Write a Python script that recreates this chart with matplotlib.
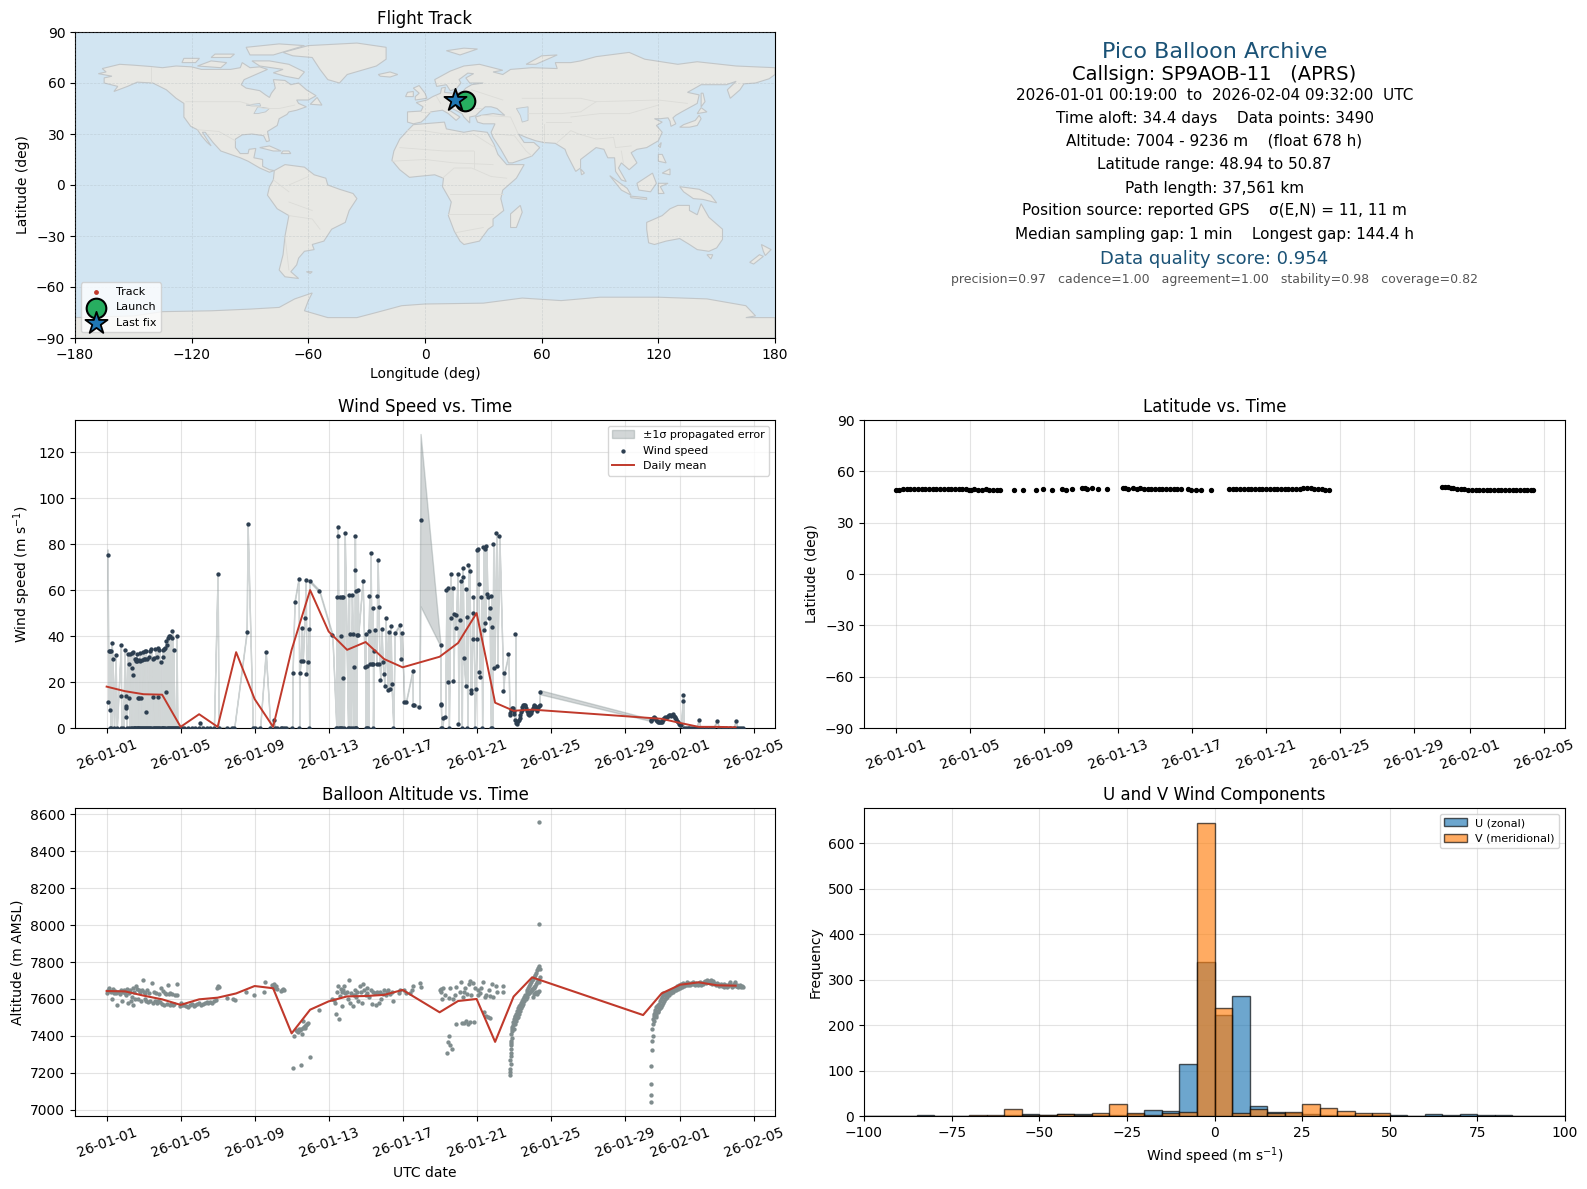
#!/usr/bin/env python3
"""Pico balloon flight summary panel."""

from datetime import datetime

import matplotlib

matplotlib.use("Agg")
import matplotlib.dates as mdates
import numpy as np
from matplotlib import pyplot as plt
from matplotlib.patches import Polygon

FIG_W, FIG_H = 1587, 1189

# ---- map outlines, lon/lat
north_america = [(-168, 65.5), (-164, 66.5), (-166, 68.5), (-157, 71), (-150, 70.5), (-141, 69.7), (-135, 69), (-128, 70), (-120, 69.5), (-115, 68), (-108, 68), (-100, 68), (-95, 69), (-94, 72), (-90, 69), (-85, 69.5), (-81, 68), (-87, 65), (-93, 62), (-94.5, 59), (-92, 57), (-85, 55.5), (-82, 53), (-80, 51.5), (-79, 54), (-77, 57), (-78, 62), (-72, 61.5), (-69, 59), (-65, 60), (-61, 56), (-56, 52.5), (-60, 50), (-66, 50), (-65, 48), (-61, 46), (-66, 44), (-70, 43), (-71, 41.5), (-75, 39), (-76, 35), (-81, 31.5), (-80, 26), (-81.5, 25.5), (-83, 29), (-89, 30), (-94, 29.5), (-97.5, 27), (-97.5, 22), (-95, 18.5), (-91, 18.5), (-90.5, 21), (-87, 21.5), (-88, 16), (-83.5, 15), (-83.5, 11), (-80, 9), (-77.5, 8.5), (-80, 7.5), (-85, 10), (-91, 14), (-95, 16), (-105, 20), (-109, 25), (-113, 31), (-114.5, 31), (-110, 23), (-112, 25), (-115, 29), (-117, 32.5), (-120.5, 34.5), (-124, 40), (-124, 48), (-128, 51), (-133, 56), (-140, 60), (-148, 60.5), (-153, 58), (-160, 55), (-158, 58), (-165, 60), (-165, 63), (-161, 64)]
south_america = [(-77.5, 8.5), (-72, 12), (-62, 10.5), (-57, 6), (-51, 4), (-50, 0), (-44, -2.5), (-37, -5), (-35, -8), (-39, -15), (-41, -22), (-48, -26), (-52, -33), (-58, -35), (-57, -38), (-62, -39), (-65, -43), (-66, -47), (-69, -51), (-65, -55), (-72, -54), (-75, -50), (-73, -41), (-72, -30), (-70, -18), (-76, -14), (-81, -6), (-80, -1), (-78, 3)]
eurasia = [(-9, 37), (-9, 43), (-2, 43.5), (-1, 46), (-4.5, 48.5), (1, 50), (4, 52), (8, 54), (8.5, 57), (10.5, 57.5), (10, 54.5), (14, 54), (19, 54.5), (21, 57), (24, 59), (30, 60), (23, 60), (21, 63), (25, 65.5), (22, 65.8), (17.5, 62), (18.5, 60), (16, 56.5), (13, 55.5), (11, 59), (6, 58), (5, 62), (13, 67), (20, 70), (28, 71), (40, 67.5), (35, 66.5), (40, 65), (44, 68), (55, 69), (68, 68.5), (67, 72), (75, 72), (80, 73), (88, 75.5), (105, 78), (113, 74), (130, 71), (140, 72.5), (160, 70), (180, 69), (180, 65), (177, 62.5), (170, 60), (164, 59.5), (162, 56), (157, 51), (155.5, 56), (160, 61), (155, 59), (142, 59), (135, 54.5), (141, 53), (140, 48), (132, 43), (129, 41), (127.5, 39.5), (129, 36), (126.5, 34.5), (126, 37.5), (125, 39.5), (121, 39), (118, 39), (122, 37), (119, 35), (122, 31), (120, 26), (114, 22), (109, 21), (106, 19), (109, 13), (105, 9), (101, 13), (99.5, 10), (103.5, 2), (101, 3), (98, 8), (97.5, 16), (94, 16), (92, 21), (88, 22), (80, 15), (80, 10), (77.5, 8), (73, 18), (72, 21), (67, 24.5), (61, 25), (57, 26), (52, 28), (48, 30), (51, 25), (56, 25), (59, 22), (55, 17), (45, 13), (43, 13), (39, 21), (35, 28), (34, 31), (36, 36), (30, 36), (27, 37), (26, 40), (29, 41), (35, 42), (41, 41), (37, 45), (34, 46), (31, 46), (28, 43), (26, 40.7), (23, 40), (23, 36.5), (20, 40), (19, 42), (14, 45), (12.5, 44), (18, 40), (16, 38), (12, 42), (9, 44), (3, 43), (0, 39), (-2, 37), (-6, 36)]
africa = [(-6, 35.5), (10, 37), (11, 33), (20, 31), (25, 32), (32, 31), (33.5, 28), (35.5, 24), (37.5, 18), (42, 12), (51, 12), (47, 4), (40, -3), (39, -8), (40.5, -15), (35, -20), (35, -24), (32.5, -26), (28, -33), (20, -35), (18, -33), (15, -27), (12, -18), (13.5, -10), (9, -1), (9.5, 4), (5, 6), (-4, 5), (-8, 4.5), (-13, 9), (-17, 14.5), (-16, 20), (-13, 27), (-9, 32)]
australia = [(114, -22), (122, -18), (126, -14), (130, -12), (136, -12), (136, -15), (140, -17.5), (142, -11), (146, -19), (153, -26), (153, -32), (150, -37), (146, -39), (140, -38), (136, -35), (131, -31.5), (124, -33), (118, -35), (115, -34), (114, -26)]
antarctica = [(-180, -78), (-150, -77), (-135, -74.5), (-110, -74), (-90, -73), (-75, -72), (-67, -67), (-58, -63.5), (-60, -68), (-62, -74), (-50, -78), (-35, -78), (-25, -75), (-12, -71), (0, -70), (30, -69.5), (50, -66.5), (70, -68), (90, -66), (120, -66), (145, -67), (165, -71), (170, -77), (165, -78), (180, -78), (180, -90), (-180, -90)]
greenland = [(-73, 78), (-60, 82), (-35, 83.5), (-20, 81), (-20, 74), (-25, 70), (-40, 65), (-44, 60), (-50, 62), (-54, 68), (-58, 75), (-68, 76)]
islands = [
    [(-80, 73), (-70, 71), (-62, 66.5), (-65, 62.5), (-72, 64), (-78, 66), (-73, 68), (-85, 70), (-89, 73)],
    [(-117, 70), (-105, 69), (-102, 72), (-110, 73)],
    [(-90, 76.5), (-78, 76.5), (-62, 82), (-75, 83), (-92, 81)],
    [(-125, 72), (-118, 72), (-116, 74.5), (-124, 74.5)],
    [(-110, 75), (-100, 75), (-98, 77), (-108, 77)],
    [(-59, 47.5), (-53, 47), (-55.5, 51.5)],
    [(-85, 22), (-80, 23), (-74, 20), (-78, 20)],
    [(-74, 18.5), (-69, 18.5), (-70, 20), (-73, 20)],
    [(49, -12), (50, -16), (47, -25), (44, -25), (44, -17)],
    [(-5, 50), (1, 51), (0, 54), (-3, 58.5), (-6, 57), (-3, 54), (-5, 52)],
    [(-10, 52), (-6, 52), (-6, 55), (-9, 54.5)],
    [(-24, 65), (-18, 66.5), (-14, 65), (-18, 63.5), (-23, 64)],
    [(11, 79), (20, 80.5), (27, 80), (18, 76.5)],
    [(52, 71), (57, 71), (68, 76.5), (60, 76)],
    [(131, 34), (136, 34), (140, 35), (142, 39), (141, 41), (139, 38), (133, 35.5)],
    [(140, 42), (145, 43), (142, 45.5)],
    [(142, 46), (144, 49), (143, 54), (142, 54)],
    [(120, 23), (121.5, 25), (121, 22)],
    [(80, 9.5), (82, 7), (80.5, 6)],
    [(109, 1), (117, 7), (119, 1), (116, -4), (110, -3)],
    [(95, 5.5), (104, -2), (106, -6), (101, -3)],
    [(105.5, -6.5), (114, -7.5), (114, -8.5), (106, -7.5)],
    [(120, 1), (125, 1), (121, -1), (123, -5), (120, -5)],
    [(131, -1), (141, -2.5), (147, -6), (150, -10.5), (143, -8.5), (138, -8), (133, -4)],
    [(120, 18), (122, 18), (124, 13), (120, 14)],
    [(122, 7), (126, 9.5), (126, 6)],
    [(145, -41), (148, -41), (147, -43.5)],
    [(173, -35), (178, -38), (175, -41.5), (174, -39)],
    [(172, -41), (174, -42), (169, -46.5), (167, -45.5)],
    [(-61, -51), (-58, -51), (-59, -52)],
]
lakes = [
    [(47, 45), (53, 46), (53, 38), (50, 37), (49, 41)],
    [(-92, 47), (-85, 48), (-84.5, 46.5), (-89, 46.5)],
    [(-88, 42), (-86, 46), (-80, 45), (-82, 43), (-86, 42)],
]
borders = [
    [(-123, 49), (-95, 49), (-83, 45), (-75, 45), (-67, 47)], [(-141, 69.7), (-141, 60)], [(-117, 32.5), (-106, 31.5), (-97.5, 26)],
    [(-70, -18), (-58, -20), (-54, -26)], [(-70, 0), (-60, 5)], [(-72, -30), (-70, -50)], [(-70, -10), (-58, -15)], [(-78, 3), (-70, -4)],
    [(-9, 32), (-1, 32), (10, 30), (25, 30), (36, 22)], [(-13, 22), (10, 20), (25, 20)], [(-17, 14), (0, 15), (15, 13), (35, 12)],
    [(9, 4), (15, 10), (24, 10), (34, 5), (42, 4)], [(13, -5), (30, -5), (40, -5)], [(12, -17), (25, -17), (35, -17)], [(25, 20), (25, 10)], [(16, -28), (30, -25)],
    [(-2, 43), (3, 43)], [(8, 48), (6, 52)], [(14, 54), (14, 46)], [(24, 52), (23, 45), (29, 45)], [(24, 56), (40, 50)], [(29, 41), (44, 40), (48, 30)],
    [(53, 42), (70, 42), (80, 43), (88, 49), (120, 50), (135, 48)], [(50, 51), (60, 51), (80, 51), (88, 49)], [(75, 40), (90, 42), (105, 42), (120, 47)], [(62, 37), (75, 37)],
    [(61, 25), (61, 36)], [(68, 25), (75, 32), (79, 30), (88, 27), (97, 28), (98, 22), (106, 23)], [(101, 20), (102, 13)], [(36, 30), (46, 29), (52, 20), (55, 17)],
]

# ---- wind speed: days since 2026-01-01 and m/s
wind_days = [0.05, 0.1, 0.16, 0.11, 0.18, 0.23, 0.27, 0.32, 0.48, 0.77, 0.78, 0.97, 1.03, 1.06, 1.04, 1.03, 1.14, 1.19, 1.21, 1.25, 1.35, 1.36, 1.41, 1.44, 1.53, 1.57, 1.6, 1.65, 1.62, 1.68, 1.73, 1.75, 1.8, 1.78, 1.85, 1.9, 1.95, 2.0, 2.05, 2.1, 2.15, 2.12, 2.2, 2.28, 2.33, 2.4, 2.48, 2.52, 2.58, 2.63, 2.7, 2.75, 2.8, 2.85, 2.95, 3.05, 3.03, 3.1, 3.13, 3.2, 3.22, 3.28, 3.33, 3.38, 3.43, 3.52, 3.56, 3.62, 3.78,
             5.03, 6.0, 7.57, 7.62, 8.6, 9.03, 10.05, 10.16, 10.38, 10.43, 10.49, 10.54, 10.6, 10.7, 10.76, 10.8, 10.86, 10.92, 10.97, 11.5,
             12.2, 12.45, 12.49, 12.5, 12.6, 12.65, 12.7, 12.76, 12.8, 12.87, 13.1, 13.15, 13.26, 13.3, 13.35, 13.42, 13.43, 13.48, 13.53, 13.58, 13.6, 13.84, 13.95, 14.0, 14.05, 14.16, 14.2, 14.22, 14.27, 14.32, 14.38, 14.4, 14.43, 14.49, 14.6, 14.62, 14.65, 14.7, 14.75, 14.8, 14.86, 14.92, 14.97, 15.03, 15.08, 15.19, 15.24, 15.3, 15.35, 15.4, 15.57, 15.84, 15.9, 15.95,
             16.09, 16.18, 16.54, 16.55, 16.62, 16.9, 16.97, 18.05, 18.06, 18.07, 18.2, 18.3, 18.37, 18.43, 18.48, 18.6, 18.61, 18.7, 18.75, 18.8, 18.86, 18.9, 18.97, 19.02, 19.08, 19.13, 19.24, 19.25, 19.3, 19.4, 19.45, 19.46, 19.56, 19.62, 19.67, 19.72, 19.78, 19.79, 19.83, 19.94, 20.0, 20.01, 20.1, 20.11, 20.15, 20.2, 20.26, 20.37, 20.42, 20.47, 20.48, 20.53, 20.58, 20.64, 20.65, 20.7, 20.8, 20.81, 20.9, 20.96, 21.07, 21.12, 21.23, 21.45, 21.5, 21.72, 22.1,
             21.78, 21.82, 21.86, 21.9, 21.95, 22.0, 22.04, 22.08, 22.12, 22.16, 22.2, 22.24, 22.28, 22.32, 22.36, 22.4, 22.44, 22.48, 22.52, 22.56, 22.6, 22.64, 22.68, 22.72, 22.76, 22.8, 22.84, 22.88, 22.92, 22.96, 23.0, 23.04, 23.08, 23.12, 23.16, 23.2, 23.24, 23.28, 23.32, 23.36, 23.4, 23.42,
             29.4, 29.45, 29.5, 29.55, 29.6, 29.65, 29.7, 29.75, 29.8, 29.85, 29.9, 29.95, 30.0, 30.05, 30.1, 30.15, 30.2, 30.25, 30.3, 30.35, 30.4, 30.45, 30.5, 30.55, 30.6, 30.65, 30.7, 30.75, 30.8, 30.85, 30.9, 30.95, 31.0, 31.05, 31.16, 31.17, 32.0, 33.0, 34.0]
wind_speeds = [75.2, 11.3, 7.8, 33.5, 33.5, 33.5, 37, 30, 31.7, 36, 14, 34, 14, 9.5, 8.5, 5, 32, 28, 13, 32.2, 26, 32.7, 23, 33, 30, 30, 29, 29, 32, 13, 13, 29.5, 32.5, 29, 13, 29.5, 33, 30, 33.5, 30, 7, 33.5, 30, 31, 33.5, 34.5, 30, 13.5, 30.5, 34.5, 31, 34.8, 13.5, 34, 28.5, 34, 31, 34.5, 35, 38, 15.5, 36, 39, 40, 40, 39, 42, 34, 40,
               2.2, 67, 41.7, 88.7, 33, 3.5, 24, 55, 65, 24, 29, 43.5, 29, 48, 64.5, 23.5, 28.7, 43, 64, 59.6,
               40.6, 57, 87.5, 83.5, 57, 40, 57, 21.7, 57, 84.8, 57.8, 41, 57.8, 41, 26.5, 83.5, 68.7, 59.6, 40.6, 60, 40.6, 64, 26.7, 41, 27, 42.3, 57.4, 28, 76, 28, 52, 28, 33.6, 42.6, 28, 57.4, 73, 52.6, 28, 21, 43, 28.7, 23.5, 18.4, 47.8, 16.5, 41.7, 17, 44.3, 19, 41.3, 44.8, 30, 41.3,
               11.3, 11.3, 25, 10, 10, 9.1, 90.4, 36, 10.5, 10, 4.5, 4.8, 60, 20, 61, 67, 47.8, 61, 20.4, 49.6, 43.5, 49, 67, 1.7, 47, 64, 65.7, 69.6, 30.4, 18.3, 60.4, 48.3, 70.9, 68.3, 16.5, 15.2, 50, 38.7, 57, 17, 38.7, 77.4, 78, 62.6, 24.3, 22.2, 57, 78.7, 42.6, 77.7, 45.7, 79.3, 58.3, 57, 47.8, 52.2, 57.4, 44, 80, 26, 84.8, 26.8, 83.5, 16, 24, 32, 40.9,
               5.8, 6.5, 7.8, 8.7, 8.6, 7.5, 5.9, 3.5, 2.0, 1.9, 2.5, 3.2, 3.4, 4.4, 5.5, 6.8, 7.8, 9.0, 9.8, 10.1, 9.9, 9.5, 8.8, 7.6, 6.9, 6.0, 5.6, 6.1, 6.6, 7.2, 7.9, 8.8, 9.7, 10.2, 9.6, 8.4, 7.6, 8.2, 9.1, 9.7, 10.0, 15.6,
               3.5, 3.2, 3.9, 4.4, 4.6, 4.3, 3.6, 2.9, 2.5, 2.7, 2.4, 2.6, 2.6, 3.4, 4.0, 4.5, 4.6, 4.3, 4.7, 5.2, 5.6, 5.8, 5.2, 5.6, 6.0, 5.4, 4.9, 4.3, 3.9, 3.1, 2.6, 1.8, 1.5, 1.2, 14.3, 11.7, 3.5, 3.0, 3.0]
wind_zero_days = [0.2, 0.25, 0.4, 0.55, 0.8, 0.9, 1.08, 1.22, 1.3, 1.38, 1.46, 1.5, 1.55, 1.59, 1.63, 1.67, 1.71, 1.76, 1.82, 1.87, 1.92, 1.97, 2.02, 2.07, 2.13, 2.17, 2.23, 2.3, 2.36, 2.42, 2.5, 2.55, 2.6, 2.66, 2.72, 2.77, 2.82, 2.88, 2.98, 3.0, 3.07, 3.12, 3.17, 3.24, 3.3, 3.36, 3.41, 3.47, 3.54, 3.6, 3.65, 3.7, 3.74, 3.82, 3.88, 3.95,
                  4.05, 4.2, 4.4, 4.6, 4.8, 5.0, 5.2, 5.4, 5.6, 5.8, 6.05, 6.5, 6.8, 6.9, 7.9, 8.0, 8.3, 8.85, 9.1, 9.2, 9.4, 9.5, 9.6, 9.7, 10.03, 10.42, 10.95,
                  12.42, 12.47, 12.55, 12.62, 12.68, 12.74, 12.82, 13.05, 13.12, 13.2, 13.32, 13.4, 13.46, 13.5, 14.0, 14.08, 14.15, 14.4, 15.5,
                  18.1, 18.15, 18.5, 19.2, 19.5, 19.9, 20.3, 20.77, 20.85, 31.2, 31.3, 31.4, 31.5, 31.6, 31.7, 31.8, 31.9, 32.1, 32.2, 32.4, 32.6, 32.8, 33.1, 33.3, 33.5, 33.7, 33.9, 34.1, 34.2, 34.3, 34.4]
wind_sigma_days = [0.05, 16.97, 23.42]
wind_sigma_vals = [2.5, 37.5, 0.9]
wind_mean_days = [0, 1, 2, 3, 4, 5, 6, 7, 8, 9, 10, 11, 12, 13, 14, 15, 16, 18, 19, 20, 21, 22, 23, 30, 31, 32, 33, 34]
wind_mean_vals = [18, 16, 14.7, 14.5, 0.5, 6, 0.5, 33, 12.6, 0.5, 34, 60, 42, 34, 37.4, 30, 26.4, 31, 37, 50, 11, 7.5, 8, 4, 2.2, 0.5, 0.5, 0.3]

# ---- latitude
lat_days = [0.02, 0.2, 0.4, 0.6, 0.8, 1.0, 1.2, 1.4, 1.6, 1.8, 2.0, 2.2, 2.4, 2.6, 2.8, 3.0, 3.2, 3.4, 3.6, 3.8, 3.95, 4.05, 4.25, 4.45, 4.65, 4.85, 5.05, 5.25, 5.45, 5.65, 6.4, 6.86, 7.6, 7.94, 8.45, 9.0, 9.2, 9.5, 10.05, 10.2, 10.35, 10.6, 10.9, 11.4,
            12.25, 12.4, 12.55, 12.8, 13.0, 13.2, 13.4, 13.6, 13.8, 14.0, 14.2, 14.4, 14.6, 14.8, 15.0, 15.2, 15.4, 15.8, 15.95, 16.2, 16.5, 17.0,
            18.0, 18.2, 18.35, 18.6, 18.8, 19.0, 19.2, 19.4, 19.6, 19.8, 20.0, 20.2, 20.4, 20.6, 20.8, 21.0, 21.2, 21.4, 21.6, 21.8, 22.0, 22.2, 22.4, 22.6, 22.8, 23.0, 23.2, 23.4,
            29.5, 29.65, 29.8, 29.95, 30.1, 30.3, 30.5, 30.7, 30.9, 31.1, 31.3, 31.5, 31.7, 31.9, 32.1, 32.3, 32.5, 32.7, 32.9, 33.1, 33.3, 33.5, 33.7, 33.9, 34.1, 34.3, 34.4]
lat_vals = [49.2, 49.3, 49.5, 49.4, 49.6, 49.4, 49.5, 49.6, 49.4, 49.5, 49.6, 49.8, 49.6, 49.7, 49.8, 49.6, 49.5, 49.6, 49.4, 49.4, 49.3, 49.3, 49.4, 49.3, 49.3, 49.4, 49.3, 49.3, 49.2, 49.3, 49.3, 49.3, 49.3, 49.4, 49.3, 49.4, 49.3, 49.4, 50.3, 50.1, 49.9, 50.0, 49.7, 49.6,
            50.1, 50.0, 49.8, 50.1, 49.9, 50.0, 49.8, 49.9, 49.8, 49.7, 49.8, 49.6, 49.7, 49.6, 49.5, 49.6, 49.4, 49.4, 49.3, 49.3, 49.2, 49.3,
            49.4, 49.5, 49.5, 49.7, 49.6, 49.8, 49.6, 49.7, 49.6, 49.6, 49.7, 49.6, 49.6, 49.5, 49.6, 49.5, 49.6, 49.7, 49.8, 49.8, 50.4, 50.4, 50.1, 49.9, 49.7, 49.4, 49.2, 48.9,
            50.8, 50.7, 50.6, 50.2, 50.0, 49.7, 49.5, 49.4, 49.3, 49.3, 49.3, 49.2, 49.3, 49.3, 49.2, 49.3, 49.3, 49.2, 49.3, 49.3, 49.2, 49.3, 49.3, 49.3, 49.2, 49.3, 49.3]

# ---- altitude
alt_days = [0.02, 0.1, 0.15, 0.2, 0.25, 0.3, 0.35, 0.4, 0.45, 0.5, 0.57, 0.62, 0.7, 0.75, 0.82, 0.9, 0.95, 1.0, 1.05, 1.1, 1.15, 1.2, 1.25, 1.3, 1.35, 1.4, 1.45, 1.5, 1.55, 1.6, 1.65, 1.7, 1.75, 1.8, 1.85, 1.9, 1.96, 2.0, 2.05, 2.1, 2.15, 2.2, 2.25, 2.3, 2.35, 2.45, 2.5, 2.55, 2.6, 2.65, 2.7, 2.8, 2.85, 2.9, 2.95, 3.0, 3.05, 3.1, 3.15, 3.2, 3.25, 3.3, 3.35, 3.4, 3.45, 3.5, 3.55, 3.6, 3.65, 3.7, 3.8, 3.82,
            3.95, 4.0, 4.1, 4.2, 4.3, 4.4, 4.5, 4.6, 4.7, 4.8, 4.9, 5.0, 5.1, 5.2, 5.3, 5.4, 5.5, 5.6, 5.7, 5.8, 5.9, 5.95, 6.0, 6.05, 6.5, 6.85, 6.95, 7.55, 7.95, 8.5, 8.58, 8.95, 9.0, 9.05, 9.1, 9.15, 9.2, 9.45, 9.5, 9.55, 9.6,
            10.1, 10.5, 11.0, 10.12, 10.25, 10.3, 10.35, 10.4, 10.45, 10.5, 10.55, 10.6, 10.65, 10.7, 10.75, 10.8, 10.85, 10.9, 10.6, 11.5,
            12.2, 12.3, 12.35, 12.4, 12.45, 12.5, 12.55, 12.6, 12.65, 12.7, 12.75, 12.8, 12.85, 12.9, 13.0, 13.05, 13.1, 13.15, 13.2, 13.3, 13.35, 13.4, 13.45, 13.5, 13.55, 13.6, 13.7, 13.75, 13.8, 13.85, 13.9, 14.0, 14.05, 14.1, 14.2, 14.3, 14.35, 14.4, 14.5, 14.55, 14.6, 14.7, 14.75, 14.8, 14.85, 14.95, 15.0, 15.1, 15.15, 15.2, 15.3, 15.4, 15.5, 15.8, 15.85, 16.1, 16.2, 16.4, 16.5, 16.55, 16.95, 17.0,
            18.0, 18.05, 18.1, 18.15, 18.2, 18.3, 18.5, 18.55, 18.7, 18.85, 18.9, 19.1, 19.15, 19.25, 19.3, 19.35, 19.5, 19.6, 19.65, 19.7, 19.8, 19.9, 20.05, 20.1, 20.2, 20.25, 20.35, 20.45, 20.5, 20.65, 20.7, 20.85, 20.9, 21.05, 21.1, 21.4, 21.45,
            18.65, 18.55, 18.45, 18.4, 18.5, 18.9, 19.2, 19.3, 19.45, 19.55, 19.65, 19.85, 20.4, 20.5, 20.6, 20.7,
            21.78, 21.8, 21.82, 21.85, 21.83, 21.86, 21.84, 21.87, 21.85, 21.88, 21.86, 21.9, 21.88, 21.92, 21.9, 21.93, 21.95, 21.97, 22.0, 22.02, 22.05, 22.08, 22.1, 22.13, 22.15, 22.18, 22.2, 22.23, 22.25, 22.28, 22.3, 22.33, 22.35, 22.38, 22.4, 22.43, 22.45, 22.48, 22.5, 22.53, 22.55, 22.58, 22.6, 22.65, 22.7, 22.72, 22.75, 22.78, 22.8, 22.82, 22.85, 22.88, 22.9, 22.93, 22.95, 22.98, 23.0, 23.02, 23.05, 23.08, 23.1, 23.12, 23.15, 23.18, 23.2, 23.22, 23.25, 23.28, 23.3, 23.32, 23.35, 23.38, 23.4, 23.42, 23.05, 23.1, 23.15, 23.2, 23.25, 23.3, 23.35, 23.37, 23.37,
            29.45, 29.45, 29.45, 29.45, 29.5, 29.5, 29.53, 29.5, 29.55, 29.55, 29.57, 29.6, 29.6, 29.63, 29.65, 29.68, 29.7, 29.72, 29.75, 29.78, 29.8, 29.83, 29.85, 29.88, 29.9, 29.93, 29.95, 29.98, 30.0, 30.03, 30.05, 30.08, 30.1, 30.13, 30.15, 30.18, 30.2, 30.23, 30.25, 30.28, 30.3, 30.35, 30.4, 30.45, 30.5, 30.55, 30.6, 30.65, 30.7, 30.75, 30.8, 30.85, 30.9, 30.95, 31.0, 31.05, 31.1, 31.15, 31.2, 31.25, 31.3, 31.35, 31.4, 31.45, 31.5, 31.55, 31.6, 31.65, 31.7, 31.75, 31.8, 31.85, 31.9, 31.95, 32.0, 32.05, 32.1, 32.15, 32.2, 32.25, 32.3, 32.35, 32.4, 32.45, 32.5, 32.55, 32.6, 32.65, 32.7, 32.75, 32.8, 32.85, 32.9, 32.95, 33.0, 33.05, 33.1, 33.15, 33.2, 33.25, 33.3, 33.35, 33.4, 33.45, 33.5, 33.55, 33.6, 33.65, 33.7, 33.75, 33.8, 33.85, 33.9, 33.95, 34.0, 34.05, 34.1, 34.15, 34.2, 34.25, 34.3, 34.35, 34.4]
alt_vals = [7630, 7650, 7660, 7645, 7640, 7600, 7655, 7635, 7645, 7630, 7566, 7640, 7625, 7650, 7590, 7640, 7650, 7635, 7620, 7655, 7580, 7630, 7650, 7590, 7610, 7660, 7570, 7640, 7600, 7670, 7655, 7600, 7650, 7640, 7590, 7650, 7703, 7640, 7600, 7630, 7590, 7650, 7585, 7635, 7590, 7686, 7580, 7640, 7590, 7630, 7580, 7590, 7625, 7585, 7659, 7575, 7645, 7570, 7630, 7625, 7575, 7676, 7625, 7570, 7630, 7575, 7625, 7565, 7575, 7620, 7681, 7620,
            7560, 7580, 7570, 7565, 7560, 7555, 7565, 7575, 7560, 7570, 7575, 7580, 7570, 7575, 7580, 7585, 7580, 7585, 7580, 7590, 7595, 7660, 7670, 7665, 7605, 7600, 7595, 7640, 7623, 7640, 7692, 7675, 7665, 7680, 7660, 7670, 7655, 7645, 7650, 7655, 7650,
            7227, 7243, 7286, 7400, 7430, 7425, 7420, 7435, 7430, 7440, 7411, 7445, 7450, 7455, 7445, 7460, 7465, 7470, 7480, 7540,
            7600, 7595, 7580, 7520, 7640, 7670, 7490, 7615, 7655, 7560, 7640, 7650, 7670, 7635, 7640, 7600, 7700, 7580, 7635, 7560, 7620, 7650, 7620, 7610, 7640, 7590, 7670, 7640, 7580, 7680, 7650, 7620, 7660, 7635, 7610, 7650, 7575, 7640, 7630, 7570, 7640, 7635, 7580, 7640, 7600, 7625, 7650, 7620, 7640, 7650, 7625, 7640, 7590, 7635, 7650, 7650, 7635, 7635, 7650, 7670, 7685, 7665,
            7650, 7655, 7640, 7600, 7660, 7620, 7605, 7660, 7600, 7620, 7665, 7640, 7690, 7610, 7640, 7660, 7625, 7680, 7695, 7620, 7685, 7660, 7650, 7620, 7635, 7660, 7690, 7610, 7620, 7650, 7615, 7680, 7610, 7670, 7640, 7670, 7640,
            7330, 7350, 7365, 7310, 7400, 7465, 7470, 7470, 7480, 7465, 7475, 7475, 7530, 7510, 7500, 7495,
            7190, 7205, 7220, 7250, 7270, 7290, 7310, 7330, 7350, 7360, 7375, 7390, 7410, 7425, 7440, 7450, 7460, 7475, 7490, 7440, 7500, 7465, 7510, 7480, 7520, 7495, 7535, 7505, 7550, 7520, 7560, 7535, 7570, 7550, 7580, 7560, 7590, 7570, 7600, 7575, 7610, 7590, 7620, 7600, 7640, 7610, 7650, 7625, 7660, 7630, 7670, 7640, 7680, 7645, 7690, 7650, 7700, 7655, 7710, 7660, 7720, 7665, 7730, 7670, 7740, 7680, 7755, 7690, 7770, 7700, 7780, 7690, 7760, 7720, 7610, 7625, 7630, 7640, 7625, 7640, 7645, 8005, 8555,
            7043, 7079, 7140, 7238, 7324, 7375, 7400, 7440, 7465, 7490, 7510, 7519, 7480, 7530, 7540, 7500, 7555, 7515, 7560, 7530, 7570, 7535, 7575, 7545, 7590, 7550, 7600, 7555, 7610, 7565, 7620, 7580, 7630, 7590, 7625, 7600, 7635, 7605, 7620, 7610, 7630, 7640, 7620, 7645, 7635, 7650, 7640, 7655, 7650, 7660, 7650, 7670, 7655, 7675, 7660, 7680, 7665, 7685, 7670, 7680, 7675, 7690, 7675, 7685, 7680, 7675, 7685, 7680, 7690, 7680, 7675, 7685, 7680, 7675, 7685, 7690, 7680, 7675, 7685, 7680, 7690, 7695, 7685, 7700, 7690, 7695, 7685, 7700, 7690, 7680, 7695, 7685, 7680, 7675, 7685, 7680, 7670, 7675, 7680, 7670, 7675, 7665, 7680, 7670, 7675, 7665, 7670, 7680, 7690, 7675, 7665, 7670, 7680, 7690, 7670, 7675, 7670, 7665, 7670, 7675, 7665, 7668, 7665]
alt_mean_days = [0, 1, 2, 3, 4, 5, 6, 7, 8, 9, 10, 11, 12, 13, 14, 15, 16, 18, 19, 20, 21, 22, 23, 29, 30, 31, 32, 33, 34]
alt_mean_vals = [7643, 7641, 7618, 7598, 7568, 7598, 7607, 7630, 7670, 7658, 7414, 7542, 7587, 7614, 7616, 7622, 7649, 7528, 7589, 7600, 7368, 7613, 7717, 7513, 7630, 7677, 7690, 7674, 7672]

# ---- histogram, 5 m/s bins from -100 to 100
hist_edges = [-100, -95, -90, -85, -80, -75, -70, -65, -60, -55, -50, -45, -40, -35, -30, -25, -20, -15, -10, -5, 0, 5, 10, 15, 20, 25, 30, 35, 40, 45, 50, 55, 60, 65, 70, 75, 80, 85, 90, 95]
u_counts = [0, 0, 0, 2, 0, 0, 1, 1, 3, 4, 2, 4, 4, 3, 3, 4, 13, 10, 115, 338, 222, 265, 22, 9, 7, 4, 3, 3, 2, 2, 2, 1, 4, 2, 4, 2, 2, 0, 0, 0]
v_counts = [0, 0, 0, 0, 0, 0, 2, 2, 15, 2, 2, 5, 3, 7, 26, 7, 3, 7, 8, 646, 238, 7, 16, 7, 8, 26, 17, 10, 7, 6, 1, 0, 0, 0, 0, 0, 0, 0, 0, 0]

BASE = mdates.date2num(datetime(2026, 1, 1))
RED = "#c0392b"
NAVY = "#2c3e50"
GREY = "#7f8c8d"
TITLE_BLUE = "#1a5276"


def make_axes(fig, x0, y0, x1, y1):
    # pixel box, y measured from the top of the figure
    return fig.add_axes([x0 / FIG_W, 1 - y1 / FIG_H, (x1 - x0) / FIG_W, (y1 - y0) / FIG_H])


def date_axis(ax):
    ax.set_xlim(BASE - 1.71, BASE + 36.13)
    ax.xaxis.set_major_locator(mdates.DayLocator(bymonthday=[1, 5, 9, 13, 17, 21, 25, 29]))
    ax.xaxis.set_major_formatter(mdates.DateFormatter("%y-%m-%d"))
    ax.tick_params(axis="x", rotation=20)
    ax.grid(True, alpha=0.35, zorder=0)


def draw_map(ax):
    ax.set_facecolor("#d2e5f2")
    for outline in [north_america, south_america, eurasia, africa, australia, antarctica, greenland] + islands:
        ax.add_patch(Polygon(outline, closed=True, fc="#e8e8e4", ec="#c2c6c8", lw=0.8, zorder=1))
    for outline in lakes:
        ax.add_patch(Polygon(outline, closed=True, fc="#d2e5f2", ec="#c2c6c8", lw=0.6, zorder=1.1))
    for line in borders:
        xs, ys = zip(*line)
        ax.plot(xs, ys, color="#dcdcd8", lw=0.6, zorder=1.2)
    ax.grid(True, ls="--", lw=0.5, color="#9aa5ab", alpha=0.3, zorder=1.5)
    ax.set_axisbelow(False)
    ax.scatter([20.8, 19, 16.5, 15.5], [49.4, 50.2, 50.4, 50.0], s=6, color=RED, label="Track", zorder=3)
    ax.scatter([20.8], [49.4], s=200, color="#27ae60", ec="black", lw=1.5, label="Launch", zorder=4)
    ax.scatter([15.5], [50.0], s=280, marker="*", color="#1f77b4", ec="black", lw=1.3, label="Last fix", zorder=5)
    ax.set_xlim(-180, 180)
    ax.set_ylim(-90, 90)
    ax.set_xticks([-180, -120, -60, 0, 60, 120, 180])
    ax.set_yticks([-90, -60, -30, 0, 30, 60, 90])
    ax.set_title("Flight Track")
    ax.set_xlabel("Longitude (deg)")
    ax.set_ylabel("Latitude (deg)")
    ax.legend(loc="lower left", fontsize=8)


def draw_summary(ax):
    ax.axis("off")
    ax.set_xlim(0, 1)
    ax.set_ylim(338, 32)
    rows = [
        (52, "Pico Balloon Archive", 16, TITLE_BLUE),
        (74, "Callsign: SP9AOB-11   (APRS)", 14, "black"),
        (95.5, "2026-01-01 00:19:00  to  2026-02-04 09:32:00  UTC", 11, "black"),
        (118.5, "Time aloft: 34.4 days    Data points: 3490", 11, "black"),
        (141.5, "Altitude: 7004 - 9236 m    (float 678 h)", 11, "black"),
        (164.5, "Latitude range: 48.94 to 50.87", 11, "black"),
        (188, "Path length: 37,561 km", 11, "black"),
        (210.5, "Position source: reported GPS    σ(E,N) = 11, 11 m", 11, "black"),
        (234.5, "Median sampling gap: 1 min    Longest gap: 144.4 h", 11, "black"),
        (258.5, "Data quality score: 0.954", 13, TITLE_BLUE),
        (279, "precision=0.97   cadence=1.00   agreement=1.00   stability=0.98   coverage=0.82", 9, "#555555"),
    ]
    for y, text, size, color in rows:
        ax.text(0.5, y, text, fontsize=size, color=color, ha="center", va="center")


def draw_wind(ax):
    days = np.concatenate([wind_days, wind_zero_days])
    speeds = np.concatenate([wind_speeds, np.zeros(len(wind_zero_days))])
    order = np.argsort(days, kind="stable")
    days, speeds = days[order], speeds[order]
    sigma = np.full(days.shape, 0.45)
    for day, value in zip(wind_sigma_days, wind_sigma_vals):
        sigma[np.argmin(np.abs(days - day))] = value
    t = BASE + days
    ax.fill_between(t, np.clip(speeds - sigma, 0, None), speeds + sigma, color=GREY, alpha=0.35, label="±1σ propagated error", zorder=2)
    ax.scatter(t, speeds, s=4.5, color=NAVY, label="Wind speed", zorder=3)
    ax.plot(BASE + np.array(wind_mean_days), wind_mean_vals, color=RED, lw=1.4, label="Daily mean", zorder=4)
    date_axis(ax)
    ax.set_ylim(0, 134)
    ax.set_yticks([0, 20, 40, 60, 80, 100, 120])
    ax.set_title("Wind Speed vs. Time")
    ax.set_ylabel("Wind speed (m s$^{-1}$)")
    ax.legend(loc="upper right", fontsize=8)


def draw_latitude(ax):
    ax.scatter(BASE + np.array(lat_days), lat_vals, s=8, color="black", zorder=3)
    date_axis(ax)
    ax.set_ylim(-90, 90)
    ax.set_yticks([-90, -60, -30, 0, 30, 60, 90])
    ax.set_title("Latitude vs. Time")
    ax.set_ylabel("Latitude (deg)")


def draw_altitude(ax):
    ax.scatter(BASE + np.array(alt_days), alt_vals, s=4.5, color=GREY, zorder=3)
    ax.plot(BASE + np.array(alt_mean_days), alt_mean_vals, color=RED, lw=1.5, zorder=4)
    date_axis(ax)
    ax.set_ylim(6967, 8633)
    ax.set_yticks([7000, 7200, 7400, 7600, 7800, 8000, 8200, 8400, 8600])
    ax.set_title("Balloon Altitude vs. Time")
    ax.set_xlabel("UTC date")
    ax.set_ylabel("Altitude (m AMSL)")


def draw_hist(ax):
    ax.bar(hist_edges, u_counts, width=5, align="edge", color="#1f77b4", alpha=0.65, ec="black", lw=1, label="U (zonal)", zorder=3)
    ax.bar(hist_edges, v_counts, width=5, align="edge", color="#ff7f0e", alpha=0.65, ec="black", lw=1, label="V (meridional)", zorder=3)
    ax.set_xlim(-100, 100)
    ax.set_ylim(0, 678)
    ax.grid(True, alpha=0.35, zorder=0)
    ax.set_title("U and V Wind Components")
    ax.set_xlabel("Wind speed (m s$^{-1}$)")
    ax.set_ylabel("Frequency")
    ax.legend(loc="upper right", fontsize=8)


def main():
    fig = plt.figure(figsize=(FIG_W / 100, FIG_H / 100), dpi=100)
    draw_map(make_axes(fig, 75, 32, 775, 338))
    draw_summary(make_axes(fig, 864, 32, 1565, 338))
    draw_wind(make_axes(fig, 75, 420, 775, 728))
    draw_latitude(make_axes(fig, 864, 420, 1565, 728))
    draw_altitude(make_axes(fig, 75, 808, 775, 1116))
    draw_hist(make_axes(fig, 864, 808, 1565, 1116))
    fig.savefig("out.png", dpi=100)


if __name__ == "__main__":
    main()
